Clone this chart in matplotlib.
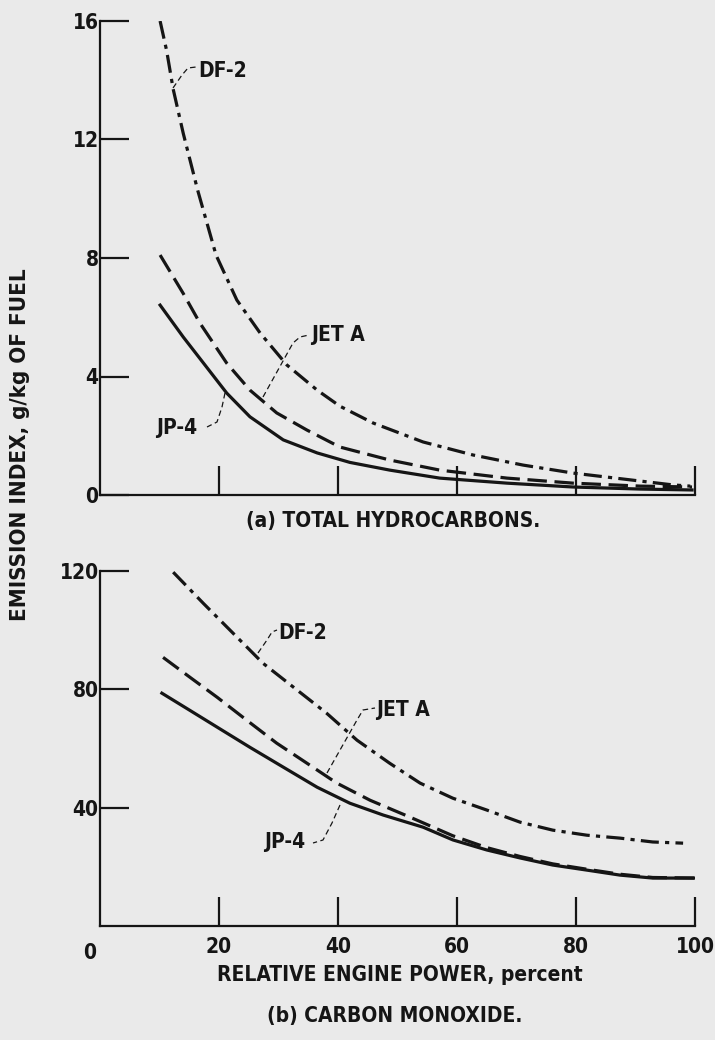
"""Emission index vs relative engine power for three fuels (HC and CO)."""
import matplotlib
matplotlib.use("Agg")
import matplotlib.pyplot as plt

plt.rcParams["font.family"] = ["DejaVu Sans"]
plt.rcParams["font.stretch"] = "condensed"
plt.rcParams["font.weight"] = "bold"
plt.rcParams["lines.scale_dashes"] = False

INK = "#151515"
PAPER = "#eaeaea"

# (a) total hydrocarbons, g/kg of fuel
hc_df2_power = [10.1, 11.2, 12.3, 14.0, 16.4, 19.5, 23.0, 26.9, 31.4, 36.5, 40.3, 45.9,
                54.3, 62.7, 71.1, 79.5, 87.9, 96.3, 99.2]
hc_df2 = [16.0, 15.0, 13.7, 12.2, 10.3, 8.1, 6.58, 5.47, 4.39, 3.54, 3.0, 2.43,
          1.79, 1.35, 1.01, 0.74, 0.54, 0.34, 0.30]
hc_jeta_power = [10.1, 14.0, 16.8, 21.3, 25.2, 29.7, 34.8, 40.3, 48.7, 57.1, 68.4, 79.5, 90.8, 99.5]
hc_jeta = [8.1, 6.8, 5.8, 4.45, 3.54, 2.77, 2.19, 1.62, 1.18, 0.84, 0.57, 0.40, 0.30, 0.27]
hc_jp4_power = [10.1, 14.0, 17.4, 21.3, 25.2, 30.8, 36.5, 42.0, 48.7, 57.1, 68.4, 79.5, 90.8, 99.5]
hc_jp4 = [6.41, 5.33, 4.45, 3.44, 2.64, 1.86, 1.42, 1.10, 0.84, 0.57, 0.40, 0.27, 0.20, 0.17]

# (b) carbon monoxide, g/kg of fuel
co_df2_power = [12.3, 17.4, 22.4, 27.4, 33.1, 38.1, 43.2, 48.7, 53.8, 59.3, 65.0, 70.6,
                76.1, 81.8, 87.4, 92.9, 98.0]
co_df2 = [119.6, 109.0, 98.9, 88.8, 79.8, 71.9, 62.8, 55.0, 48.3, 43.2, 39.2, 35.1,
          32.4, 30.7, 29.7, 28.4, 28.0]
co_jeta_power = [10.6, 15.1, 19.7, 24.7, 29.7, 34.8, 39.8, 45.4, 52.1, 59.3, 65.0, 70.6,
                 76.1, 81.8, 87.4, 92.9, 100.0]
co_jeta = [90.8, 84.1, 77.3, 69.5, 61.8, 55.0, 48.3, 42.5, 36.8, 30.5, 26.5, 23.5,
           21.0, 19.2, 17.5, 16.4, 16.2]
co_jp4_power = [10.4, 15.1, 19.7, 25.2, 30.8, 36.5, 42.0, 47.6, 54.3, 59.3, 65.0, 70.6,
                76.1, 81.8, 87.4, 92.9, 100.0]
co_jp4 = [78.7, 72.9, 67.2, 60.4, 53.7, 46.9, 41.5, 37.5, 33.4, 29.1, 25.7, 23.0,
          20.6, 18.9, 17.2, 16.2, 16.2]

x_ticks = [20, 40, 60, 80, 100]
hc_ticks = [0, 4, 8, 12, 16]
co_ticks = [40, 80, 120]

STYLE = {
    "DF-2": (0, (13, 4.5, 3, 4.5)),
    "JET A": (0, (14, 5.5)),
    "JP-4": "-",
}
LEADER = dict(color=INK, lw=0.9, ls=(0, (4, 2.5)))
FS = 15


def style_axes(ax, yticks, ymax, show_xlabels):
    ax.set_facecolor(PAPER)
    ax.set_xlim(0, 100)
    ax.set_ylim(0, ymax)
    for side in ("top", "right"):
        ax.spines[side].set_visible(False)
    for side in ("left", "bottom"):
        ax.spines[side].set_linewidth(1.6)
        ax.spines[side].set_color(INK)
    ax.set_xticks(x_ticks)
    ax.set_yticks(yticks)
    ax.tick_params(direction="in", length=21, width=1.6, color=INK,
                   labelsize=FS, labelcolor=INK)
    ax.tick_params(axis="y", pad=1)
    ax.tick_params(axis="x", pad=8, labelbottom=show_xlabels)
    for lab in ax.get_yticklabels() + ax.get_xticklabels():
        lab.set_fontweight("bold")


def leader(ax, pts, text, tx, ty):
    # pts and text position in figure pixels (origin top-left)
    fig = ax.figure
    W, H = fig.bbox.width, fig.bbox.height
    xs = [p[0] / W for p in pts]
    ys = [1 - p[1] / H for p in pts]
    fig.add_artist(plt.Line2D(xs, ys, transform=fig.transFigure, **LEADER))
    fig.text(tx / W, 1 - ty / H, text, fontsize=FS, fontweight="bold",
             color=INK, ha="left", va="center")


fig = plt.figure(figsize=(7.15, 10.4), dpi=100, facecolor=PAPER)

ax1 = fig.add_axes([100 / 715, 1 - 495 / 1040, 595 / 715, 474 / 1040])
style_axes(ax1, hc_ticks, 16, False)
ax1.plot(hc_df2_power, hc_df2, color=INK, lw=2.3, ls=STYLE["DF-2"])
ax1.plot(hc_jeta_power, hc_jeta, color=INK, lw=2.3, ls=STYLE["JET A"])
ax1.plot(hc_jp4_power, hc_jp4, color=INK, lw=2.3, ls=STYLE["JP-4"])

ax2 = fig.add_axes([100 / 715, 1 - 926 / 1040, 595 / 715, 355 / 1040])
style_axes(ax2, co_ticks, 120, True)
ax2.plot(co_df2_power, co_df2, color=INK, lw=2.3, ls=STYLE["DF-2"])
ax2.plot(co_jeta_power, co_jeta, color=INK, lw=2.3, ls=STYLE["JET A"])
ax2.plot(co_jp4_power, co_jp4, color=INK, lw=2.3, ls=STYLE["JP-4"])
ax2.text(-1.7, -0.075, "0", transform=ax2.get_xaxis_transform(), ha="center",
         va="center", fontsize=FS, fontweight="bold", color=INK)

# curve labels with leader lines
leader(ax1, [(173, 88), (182, 75), (188, 68), (196, 67)], "DF-2", 198, 71)
leader(ax1, [(263, 397), (293, 343), (300, 337), (309, 335)], "JET A", 311, 335)
leader(ax1, [(225, 393), (222, 407), (217, 422), (207, 427)], "JP-4", 156, 428)
leader(ax2, [(258, 653), (267, 640), (272, 632), (277, 630)], "DF-2", 278, 633)
leader(ax2, [(327, 773), (357, 720), (363, 710), (375, 708)], "JET A", 376, 710)
leader(ax2, [(340, 805), (332, 823), (323, 840), (313, 843)], "JP-4", 264, 842)

fig.text(393 / 715, 1 - 521 / 1040, "(a) TOTAL HYDROCARBONS.", fontsize=FS,
         fontweight="bold", color=INK, ha="center", va="center")
fig.text(400 / 715, 1 - 975 / 1040, "RELATIVE ENGINE POWER, percent", fontsize=FS,
         fontweight="bold", color=INK, ha="center", va="center")
fig.text(395 / 715, 1 - 1016 / 1040, "(b) CARBON MONOXIDE.", fontsize=FS,
         fontweight="bold", color=INK, ha="center", va="center")
fig.text(20 / 715, 1 - 445 / 1040, "EMISSION INDEX, g/kg OF FUEL", fontsize=16,
         fontweight="bold", color=INK, ha="center", va="center", rotation=90)

fig.savefig("out.png", dpi=100, facecolor=PAPER)
